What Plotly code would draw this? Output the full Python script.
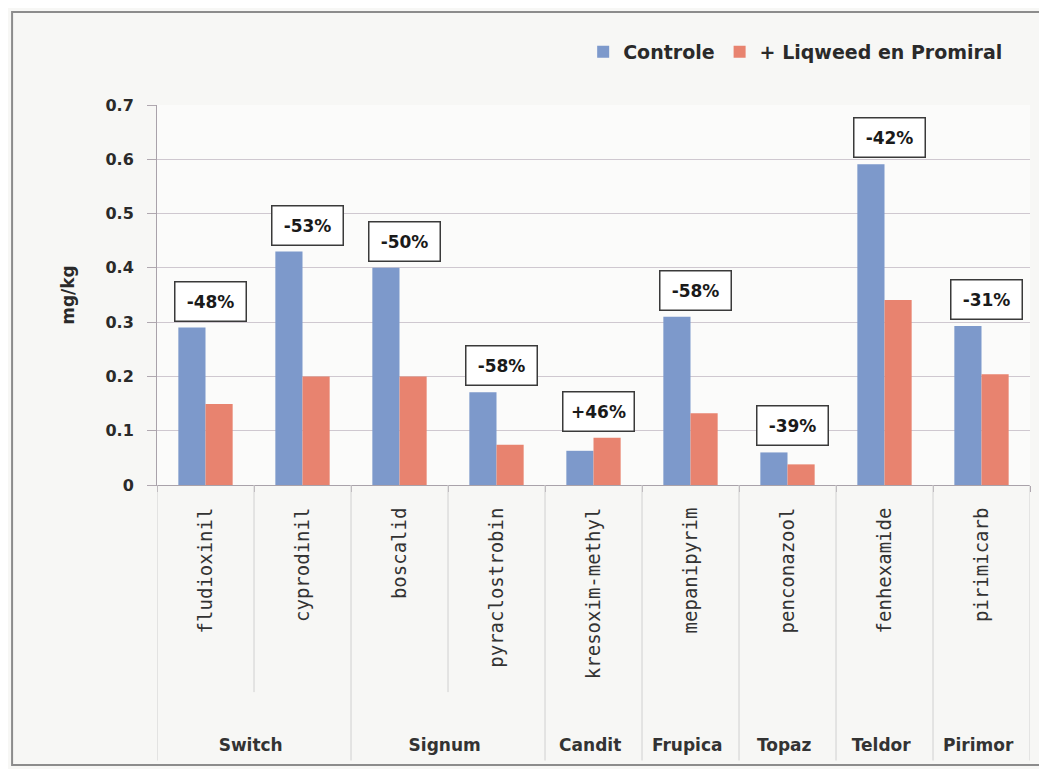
import plotly.graph_objects as go

# ---- data ----
categories = ["fludioxinil", "cyprodinil", "boscalid", "pyraclostrobin",
              "kresoxim-methyl", "mepanipyrim", "penconazool", "fenhexamide", "pirimicarb"]
groups = ["Switch", "Switch", "Signum", "Signum", "Candit", "Frupica", "Topaz", "Teldor", "Pirimor"]
controle = [0.29, 0.43, 0.40, 0.171, 0.063, 0.31, 0.060, 0.591, 0.293]
liqweed = [0.149, 0.20, 0.20, 0.074, 0.087, 0.132, 0.038, 0.341, 0.204]
change_labels = ["-48%", "-53%", "-50%", "-58%", "+46%", "-58%", "-39%", "-42%", "-31%"]
y_ticks = [0, 0.1, 0.2, 0.3, 0.4, 0.5, 0.6, 0.7]
y_tick_text = ["0", "0.1", "0.2", "0.3", "0.4", "0.5", "0.6", "0.7"]

BLUE = "#7d99cb"
RED = "#e8836f"
GRID = "#cfc8d0"
TXT = "#2a2a2a"
BOLD_FONT = "DejaVu Sans"

group_display = ["<br><br><span style='font-family:DejaVu Sans;font-weight:bold;font-size:17px'>%s</span>" % g
                 for g in groups]

fig = go.Figure()
fig.add_trace(go.Bar(name="Controle", x=[group_display, categories], y=controle,
                     marker=dict(color=BLUE, line=dict(width=0))))
fig.add_trace(go.Bar(name="+ Liqweed en Promiral", x=[group_display, categories], y=liqweed,
                     marker=dict(color=RED, line=dict(width=0))))

annotations = []
for i, lab in enumerate(change_labels):
    annotations.append(dict(
        xref="x2", yref="y", x=i, y=max(controle[i], liqweed[i]),
        text=lab, showarrow=False, yanchor="bottom", xanchor="center",
        yshift=6, xshift=5, font=dict(family=BOLD_FONT, size=17, color="#1a1a1a", weight="bold"),
        bgcolor="#ffffff", bordercolor="#3a3a3a", borderwidth=1.5, borderpad=7,
        width=56, height=24,
    ))

# category boundary lines: full depth at group boundaries, shorter inside a group
shapes = []
n = len(groups)
for i in range(n + 1):
    b = i - 0.5
    is_group_edge = i == 0 or i == n or groups[i] != groups[i - 1]
    shapes.append(dict(type="line", xref="x2", yref="paper", x0=b, x1=b, y0=0,
                       y1=-0.725 if is_group_edge else -0.545,
                       line=dict(color="#d0d0d0", width=1)))
shapes.append(dict(type="rect", xref="paper", yref="paper",
                   x0=-0.166, x1=1.0115, y0=-0.737, y1=1.245,
                   line=dict(color="#8c8c8c", width=2), fillcolor="rgba(0,0,0,0)", layer="below"))

fig.update_layout(
    width=1047, height=769,
    margin=dict(l=149, r=25, t=97, b=292),
    paper_bgcolor="#f7f7f5", plot_bgcolor="#fbfbfa",
    barmode="group", bargap=0.44, bargroupgap=0,
    showlegend=True,
    legend=dict(orientation="h", x=0.975, xanchor="right", y=1.14, yanchor="middle",
                font=dict(family=BOLD_FONT, size=19, color=TXT, weight="bold"),
                bgcolor="rgba(0,0,0,0)", itemwidth=30, traceorder="normal"),
    font=dict(family=BOLD_FONT, color=TXT),
    xaxis=dict(type="multicategory", tickangle=-90,
               tickfont=dict(family="DejaVu Sans Mono", size=19, color="#333333"),
               showline=True, linecolor="#a9a2aa", linewidth=1,
               ticks="outside", tickson="boundaries", ticklen=6, tickcolor="#b0a8b0", tickwidth=1,
               ticklabelstandoff=14,
               showdividers=False, showgrid=False, range=[-0.5, 8.5]),
    xaxis2=dict(overlaying="x", anchor="y", range=[-0.5, 8.5], visible=False, type="linear"),
    yaxis=dict(range=[0, 0.7], tickvals=y_ticks, ticktext=y_tick_text,
               tickfont=dict(family=BOLD_FONT, size=16, color=TXT, weight="bold"),
               showgrid=True, gridcolor=GRID, gridwidth=1,
               showline=True, linecolor="#a9a2aa", linewidth=1,
               ticks="outside", ticklen=9, tickcolor="#b0a8b0", ticklabelstandoff=10,
               zeroline=False,
               title=dict(text="mg/kg", font=dict(family=BOLD_FONT, size=17, color=TXT, weight="bold"),
                          standoff=26)),
    annotations=annotations,
    shapes=shapes,
)

fig.write_html("out.html")
